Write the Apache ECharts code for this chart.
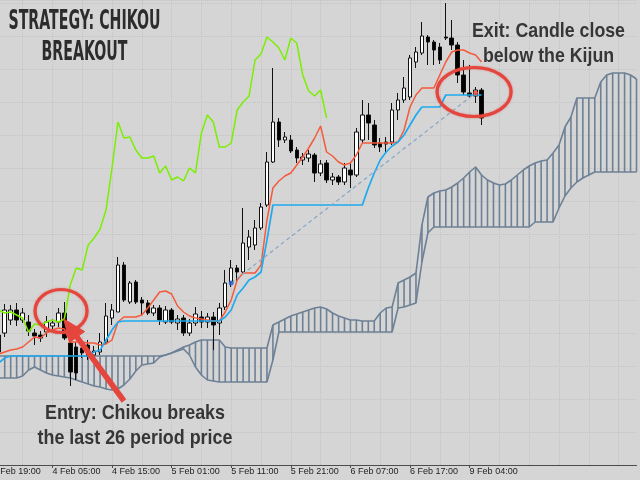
<!DOCTYPE html>
<html><head><meta charset="utf-8">
<script src="https://cdn.jsdelivr.net/npm/echarts@6/dist/echarts.min.js"></script>
<style>html,body{margin:0;padding:0;background:#d5d5d5}#c{width:640px;height:480px}</style>
</head><body><div id="c"></div>
<script>
// ---- data (hourly bars; category index 0 = "3 Feb 19:00") ----
const tickLabels = ['3 Feb 19:00','4 Feb 05:00','4 Feb 15:00','5 Feb 01:00','5 Feb 11:00','5 Feb 21:00','6 Feb 07:00','6 Feb 17:00','9 Feb 04:00'];
const CAT_COUNT = 109;
const FIRST_CAT = 1;
// [open, close, low, high]
const candles = [
[130,113,109,135],[132,155,128,161],[145,155,140,160],[155,145,139,162],[145,152,142,157],
[143,134,129,150],[132,129,120,136],[130,127,123,134],[133,143,128,149],[139,142,133,146],
[143,152,138,157],[152,127,125,163],[122,93,79,127],[118,92,85,123],[117,112,107,122],
[120,109,105,125],[110,114,107,119],[113,123,110,132],[123,149,121,162],[147,155,140,161],
[153,200,153,208],[200,165,163,203],[163,182,161,184],[183,163,161,185],[165,162,150,168],
[162,152,150,165],[152,157,149,160],[157,145,140,160],[143,155,141,159],[155,143,141,157],
[142,146,135,150],[147,132,129,150],[132,142,129,146],[142,151,139,158],[148,143,137,154],
[143,148,137,152],[148,140,115,153],[142,157,130,162],[158,182,155,195],[183,197,178,205],
[197,193,183,200],[193,222,191,257],[218,228,205,235],[220,237,215,245],[237,258,235,262],
[260,303,258,313],[303,343,302,397],[343,325,318,347],[325,328,322,333],[325,314,312,330],
[315,307,302,318],[305,308,300,312],[307,311,303,315],[310,292,283,312],[292,301,289,305],
[302,285,282,305],[285,288,280,292],[288,283,280,290],[283,297,280,302],[295,290,277,302],
[290,333,288,337],[325,350,322,365],[350,342,325,362],[340,320,317,345],[322,318,313,327],
[323,321,312,328],[323,355,320,362],[355,365,345,372],[365,377,362,388],[368,407,365,410],
[403,413,397,418],[412,429,410,443],[428,423,400,430],[423,415,400,425],[418,405,401,422],
[428,427,425,462],[427,420,415,445],[420,390,382,423],[390,373,370,405],[372,369,367,400],
[369,375,362,378],[375,347,340,377]
];
const tenkan = [
111,113,115,116,118,123,128,127,132,135,
137,136,123,123,123,122,122,120,121,125,
143,148,148,148,150,157,165,173,174,171,
159,153,149,147,146,145,144,144,153,165,
185,192,192,192,200,245,277,284,289,292,
300,308,317,327,339,313,309,303,300,302,
310,322,322,322,322,322,322,323,335,358,
370,377,377,377,390,403,413,415,415,412,
410,403
];
const kijun = [
102,107,109,109,109,109,109,109,109,109,109,109,109,109,109,109,
113,115,125,135,143,
144,144,144,144,144,144,144,144,144,144,144,144,144,144,144,144,144,
148,155,170,177,185,188,193,225,
260,260,260,260,260,260,260,260,260,260,260,260,260,260,260,260,
277,292,305,313,319,323,330,340,350,
358,358,358,358,
370,370,370,370,370,370,370
];
const chikou = [
155,152,153,150,147,133,141,140,143,145,
143,146,180,197,195,220,227,236,255,297,
343,327,328,315,307,307,309,292,299,285,
288,284,297,292,332,350,343,318,318,322,
355,363,369,405,411,428,423,417,405,427,
422,390,374,369,375,347
];
const spanA = [
109,109,109,109,109,109,109,109,109,109,109,109,109,109,109,109,109,109,109,109,109,109,109,109,109,109,109,109,
110,112,115,118,120,123,125,125,125,125,118,
117,117,117,117,117,117,117,
140,143,146,149,151,153,155,157,158,156,152,149,147,145,145,144,144,144,152,157,158,
182,185,188,192,240,268,272,274,275,278,282,287,293,298,290,285,282,280,281,285,290,295,299,
302,304,305,312,320,338,348,367,367,367,367,383,390,392,392,392,390,386
];
const spanB = [
87,87,87,87,89,95,98,95,92,90,
89,88,87,85,83,81,79,78,76,75,
76,80,86,94,100,101,102,108,110,112,
114,116,110,98,90,85,84,
83,83,83,83,83,83,83,83,83,
105,
133,133,133,133,133,133,133,133,133,133,133,133,133,133,133,133,133,133,133,133,
157,158,160,162,203,232,
238,238,238,238,238,238,238,238,238,238,238,238,238,238,238,238,238,
243,243,243,243,
257,269,277,283,287,290,
293,293,293,293,293,293,293,293
];
const entryTrade = [40, 182];
const exitTrade = [81, 372];
// annotation anchors (category index, value)
const entryRing = [11.45, 154];
const exitRing = [80.75, 373];
const arrowTip = [11.78, 147];

// ---- styles ----
const BG = '#d5d5d5';
const GRIDC = '#c3c3c3';
const CLOUD = '#6d8095';
const RED = '#e4463e';
const TXT = '#363636';

const cats = Array.from({length: CAT_COUNT}, (_, i) => String(i));
const pairs = arr => arr.map((v, i) => [i + FIRST_CAT, v]);
const showTick = i => i % 10 === 0 && i / 10 < tickLabels.length;

const chart = echarts.init(document.getElementById('c'), null, {renderer: 'canvas'});
chart.setOption({
  backgroundColor: BG,
  animation: false,
  grid: {left: -7.2, right: 3.5, top: 0, bottom: 15, containLabel: false, outerBoundsMode: 'none'},
  xAxis: {
    type: 'category', data: cats, boundaryGap: false,
    axisLine: {lineStyle: {color: '#4d4d4d', width: 1}},
    axisTick: {interval: showTick, length: 3, lineStyle: {color: '#4d4d4d'}},
    axisLabel: {interval: showTick, formatter: (v, i) => tickLabels[i / 10] || '', align: 'left', margin: 2,
      fontSize: 9, fontFamily: 'Liberation Sans, Arial, sans-serif', color: '#222'},
    splitLine: {show: true, interval: i => i % 5 === 0, lineStyle: {color: GRIDC, type: 'dotted', width: 1}}
  },
  yAxis: {
    type: 'value', min: 0, max: 465, interval: 33,
    axisLine: {show: false}, axisTick: {show: false}, axisLabel: {show: false},
    splitLine: {show: true, lineStyle: {color: GRIDC, type: 'dotted', width: 1}}
  },
  series: [
    {
      type: 'custom', name: 'cloud', z: 1,
      data: spanA.map((a, i) => [i + FIRST_CAT, a, spanB[i]]),
      encode: {x: 0, y: [1, 2]},
      renderItem: (params, api) => {
        const p1 = api.coord([api.value(0), api.value(1)]);
        const p2 = api.coord([api.value(0), api.value(2)]);
        return {type: 'line', shape: {x1: p1[0], y1: p1[1], x2: p2[0], y2: p2[1]},
          style: {stroke: CLOUD, lineWidth: 1.6}};
      }
    },
    {type: 'line', name: 'Senkou A', z: 2, data: pairs(spanA), symbol: 'none', lineStyle: {color: CLOUD, width: 1.6}},
    {type: 'line', name: 'Senkou B', z: 2, data: pairs(spanB), symbol: 'none', lineStyle: {color: CLOUD, width: 1.6}},
    {
      type: 'candlestick', name: 'price', z: 3, barWidth: 4,
      data: candles.map((c, i) => [i + FIRST_CAT].concat(c)),
      encode: {x: 0, y: [1, 2, 3, 4]},
      itemStyle: {color: '#ffffff', color0: '#000000', borderColor: '#111111', borderColor0: '#111111', borderWidth: 1}
    },
    {type: 'line', name: 'Chikou', z: 4, data: pairs(chikou), symbol: 'none', lineStyle: {color: '#7aef00', width: 1.5}},
    {type: 'line', name: 'Tenkan', z: 4, data: pairs(tenkan), symbol: 'none', lineStyle: {color: '#f45a3c', width: 1.5}},
    {type: 'line', name: 'Kijun', z: 4, data: pairs(kijun), symbol: 'none', lineStyle: {color: '#1eaaee', width: 1.7}},
    {type: 'line', name: 'trade', z: 5, data: [entryTrade, exitTrade], symbol: 'none',
      lineStyle: {color: '#86a6c8', width: 1.2, type: [4, 3]}},
    {type: 'scatter', name: 'marks', z: 6, symbolSize: 5,
      data: [{value: entryTrade, itemStyle: {color: '#1f5fcf'}}, {value: exitTrade, itemStyle: {color: '#e8402a'}}]}
  ]
});

// ---- annotations ----
function toPx(pt) {
  const i = Math.floor(pt[0]), f = pt[0] - i;
  const a = chart.convertToPixel({gridIndex: 0}, [i, pt[1]]);
  const b = chart.convertToPixel({gridIndex: 0}, [i + 1, pt[1]]);
  return [a[0] + (b[0] - a[0]) * f, a[1]];
}
const mctx = document.createElement('canvas').getContext('2d');
function fitLines(lines, cx, family, size, weight, targetW, color) {
  const font = weight + ' ' + size + 'px ' + family;
  mctx.font = font;
  const s = targetW / mctx.measureText(lines[0].t).width;
  return lines.map(l => ({
    type: 'text', x: cx, y: l.y, scaleX: s, z: 100,
    style: {text: l.t, x: 0, y: 0, font: font, fill: color, align: 'center', verticalAlign: 'middle',
      textAlign: 'center', textVerticalAlign: 'middle'}
  }));
}
const g = [];
const e1 = toPx(entryRing), e2 = toPx(exitRing);
g.push({type: 'ellipse', z: 90, shape: {cx: e1[0], cy: e1[1], rx: 26, ry: 21.5},
  style: {fill: 'none', stroke: RED, lineWidth: 3.2, shadowBlur: 2, shadowColor: 'rgba(228,70,62,0.6)'}});
g.push({type: 'ellipse', z: 90, shape: {cx: e2[0], cy: e2[1], rx: 37, ry: 24.5},
  style: {fill: 'none', stroke: RED, lineWidth: 3.2, shadowBlur: 2, shadowColor: 'rgba(228,70,62,0.6)'}});
// arrow from the entry text to the Chikou break
const tip = toPx(arrowTip), tail = [124, 401];
const dx = tail[0] - tip[0], dy = tail[1] - tip[1], len = Math.hypot(dx, dy);
const ux = dx / len, uy = dy / len, px = -uy, py = ux;
const hl = 24, hw = 10, sw = 2.8;
const bx = tip[0] + ux * hl, by = tip[1] + uy * hl;
g.push({type: 'polygon', z: 91, shape: {points: [
  tip, [bx + px * hw, by + py * hw], [bx + px * sw, by + py * sw], [tail[0] + px * sw, tail[1] + py * sw],
  [tail[0] - px * sw, tail[1] - py * sw], [bx - px * sw, by - py * sw], [bx - px * hw, by - py * hw]]},
  style: {fill: RED}});
const TITLE_FONT = "'DejaVu Sans Condensed', 'DejaVu Sans', sans-serif";
const NOTE_FONT = "'Liberation Sans Narrow', 'Liberation Sans', Arial, sans-serif";
g.push(...fitLines([{t: 'STRATEGY: CHIKOU', y: 22.5}, {t: 'BREAKOUT', y: 53}], 84.5, TITLE_FONT, 26, 'bold', 152, '#2c2c2c'));
g.push(...fitLines([{t: 'Exit: Candle close', y: 31}, {t: 'below the Kijun', y: 56}], 548.5, NOTE_FONT, 21, 'bold', 153, TXT));
g.push(...fitLines([{t: 'Entry: Chikou breaks', y: 413}, {t: 'the last 26 period price', y: 438.5}], 135, NOTE_FONT, 21, 'bold', 180, TXT));
chart.setOption({graphic: {elements: g}});
</script>
</body></html>
